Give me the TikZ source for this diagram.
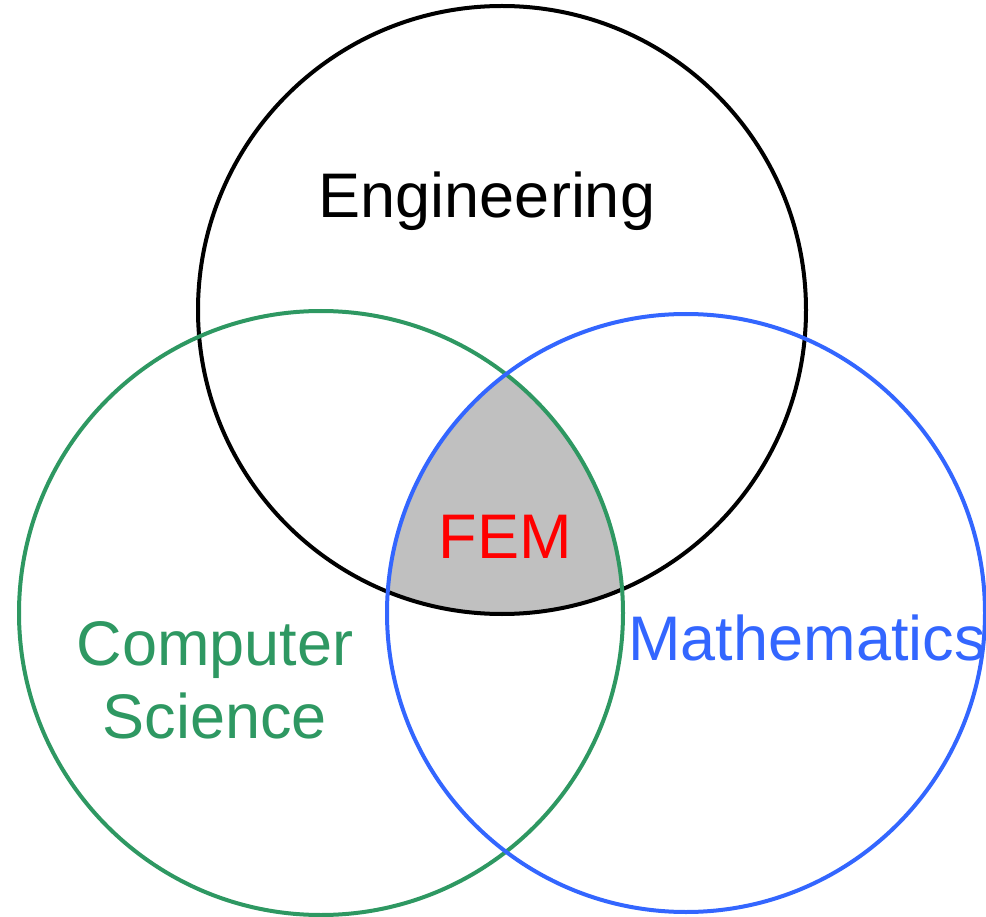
\documentclass[tikz,border=0pt]{standalone}
\usepackage{fontspec}
\setmainfont{Liberation Sans}
\definecolor{csgreen}{RGB}{46,152,98}
\definecolor{mathblue}{RGB}{51,102,255}
\definecolor{femred}{RGB}{255,0,0}
\definecolor{femgrey}{RGB}{192,192,192}
\begin{document}
\begin{tikzpicture}[x=1pt,y=-1pt,
  ring/.style={line width=4pt},
  lbl/.style={font=\fontsize{63}{65}\selectfont, inner sep=0pt, anchor=base}]
\useasboundingbox (0,0) rectangle (986,917);
\coordinate (ce) at (502,310);
\coordinate (cc) at (321,613);
\coordinate (cm) at (686,613);
\begin{scope}
  \clip (ce) circle[radius=304];
  \clip (cc) circle[radius=302];
  \fill[femgrey] (cm) circle[radius=299];
\end{scope}
\draw[ring, black] (ce) circle[radius=304];
\draw[ring, csgreen] (cc) circle[radius=302];
\draw[ring, mathblue] (cm) circle[radius=299];
\node[lbl, black] (eng) at (487,218) {Engineering};
\node[lbl, femred] (fem) at (505,558) {FEM};
\node[lbl, csgreen] (comp) at (215,665) {Computer};
\node[lbl, csgreen] (sci) at (215,738) {Science};
\node[lbl, mathblue] (math) at (807,660) {Mathematics};
\end{tikzpicture}
\end{document}
